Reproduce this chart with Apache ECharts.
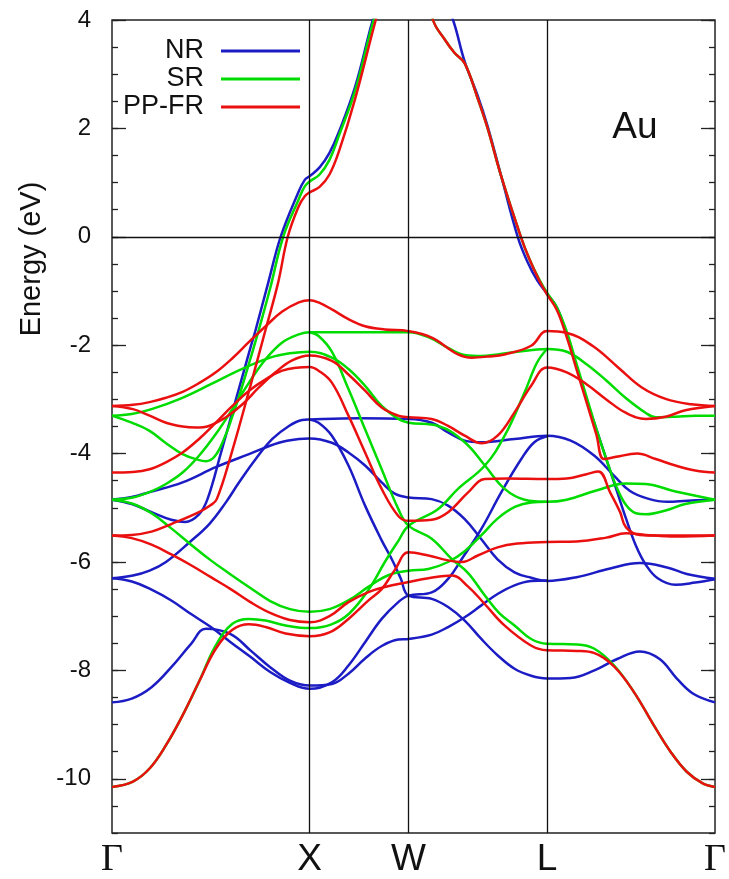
<!DOCTYPE html>
<html>
<head>
<meta charset="utf-8">
<script src="https://cdn.jsdelivr.net/npm/echarts@6/dist/echarts.min.js"></script>
<style>
  html, body { margin: 0; padding: 0; background: #ffffff; }
  #chart { width: 729px; height: 879px; }
</style>
</head>
<body>
<div id="chart"></div>
<script>
// High-symmetry points along the k-path (Γ–X–W–L–Γ) and their labels
const kSym = [0, 1, 1.5, 2.2, 3.05];
const kSymLabels = ['Γ', 'X', 'W', 'L', 'Γ'];
const energyTicks = [-10, -8, -6, -4, -2, 0, 2, 4];

// ---- NR (non-relativistic) bands, [k, E(eV)] ----
const nrBand1 = [[0,-4.85],[0.1,-4.93],[0.2,-5.08],[0.3,-5.22],[0.37,-5.26],[0.44,-5.12],[0.483,-4.84],[0.55,-4.0],[0.6,-3.35],[0.7,-2.05],[0.727,-1.71],[0.79,-0.85],[0.853,0],[0.94,0.8],[0.975,1.05],[1.0,1.12],
  [1.05,1.28],[1.1,1.55],[1.146,1.92],[1.23,2.77],[1.314,3.94],[1.4,5.0],[1.5,5.6],[1.6,5.2],[1.725,4.0],[1.784,3.23],[1.85,2.6],[1.9,2.04],[1.97,1.1],[2.052,0],[2.1,-0.45],[2.15,-0.8],[2.2,-1.05],
  [2.25,-1.3],[2.3,-1.8],[2.35,-2.4],[2.4,-3.0],[2.45,-3.55],[2.5,-4.1],[2.55,-4.65],[2.6,-5.2],[2.65,-5.7],[2.7,-6.05],[2.76,-6.3],[2.85,-6.42],[2.95,-6.38],[3.05,-6.32]];
const nrBand2 = [[0,-4.85],[0.1,-4.8],[0.19,-4.71],[0.357,-4.53],[0.525,-4.25],[0.693,-4.01],[0.844,-3.8],[0.945,-3.73],[1.0,-3.72],
  [1.112,-3.8],[1.196,-3.98],[1.28,-4.22],[1.364,-4.53],[1.43,-4.74],[1.5,-4.81],
  [1.617,-4.84],[1.7,-4.96],[1.784,-5.21],[1.868,-5.58],[1.95,-5.95],[2.036,-6.19],[2.12,-6.29],[2.2,-6.35],
  [2.35,-6.28],[2.52,-6.12],[2.67,-6.02],[2.807,-6.1],[2.907,-6.22],[3.05,-6.31]];
const nrBand3 = [[0,-6.3],[0.106,-6.25],[0.19,-6.16],[0.273,-6.0],[0.391,-5.64],[0.492,-5.3],[0.576,-4.9],[0.643,-4.53],[0.727,-4.1],[0.811,-3.73],[0.895,-3.49],[0.962,-3.38],[1.0,-3.37],
  [1.25,-3.35],[1.5,-3.36],
  [1.617,-3.43],[1.7,-3.61],[1.784,-3.76],[1.868,-3.79],[2.036,-3.73],[2.2,-3.67],
  [2.32,-3.76],[2.44,-4.04],[2.54,-4.41],[2.62,-4.69],[2.71,-4.83],[2.81,-4.89],[2.91,-4.87],[3.05,-4.85]];
const nrBand4 = [[0,-6.3],[0.1,-6.36],[0.2,-6.51],[0.3,-6.71],[0.4,-6.96],[0.5,-7.2],[0.6,-7.48],[0.7,-7.75],[0.8,-8.03],[0.9,-8.23],[1.0,-8.34],
  [1.112,-8.22],[1.196,-7.91],[1.28,-7.48],[1.364,-7.05],[1.448,-6.74],[1.5,-6.62],
  [1.617,-6.56],[1.7,-6.31],[1.77,-5.94],[1.868,-5.39],[1.968,-4.72],[2.07,-4.1],[2.136,-3.79],[2.2,-3.68]];
const nrBand5 = [[0,-8.59],[0.1,-8.52],[0.2,-8.31],[0.3,-7.94],[0.4,-7.51],[0.475,-7.23],[0.6,-7.33],[0.7,-7.63],[0.8,-7.94],[0.9,-8.19],[1.0,-8.28],
  [1.112,-8.25],[1.196,-8.06],[1.28,-7.78],[1.364,-7.55],[1.448,-7.43],[1.5,-7.42],
  [1.617,-7.34],[1.7,-7.2],[1.784,-7.02],[1.868,-6.8],[1.95,-6.59],[2.036,-6.43],[2.12,-6.35],[2.2,-6.34]];
const nrBand6 = [[1.0,-3.37],[1.045,-3.43],[1.112,-3.67],[1.196,-4.22],[1.28,-4.96],[1.364,-5.6],[1.414,-5.94],[1.46,-6.3],[1.5,-6.62],
  [1.617,-6.68],[1.7,-6.83],[1.784,-7.08],[1.868,-7.42],[1.95,-7.72],[2.036,-7.97],[2.12,-8.1],[2.2,-8.15],
  [2.32,-8.14],[2.44,-8.0],[2.555,-7.79],[2.67,-7.65],[2.77,-7.79],[2.857,-8.15],[2.94,-8.43],[3.05,-8.59]];

// ---- SR (scalar-relativistic) bands ----
const srBand1 = [[0,-3.3],[0.1,-3.43],[0.19,-3.58],[0.27,-3.8],[0.357,-4.01],[0.44,-4.12],[0.475,-4.14],[0.52,-4.05],[0.57,-3.7],[0.61,-3.3],[0.643,-2.94],[0.7,-2.25],[0.74,-1.75],[0.8,-0.95],[0.866,0],[0.944,0.69],[0.975,0.93],[1.0,1.02],
  [1.05,1.15],[1.1,1.42],[1.146,1.85],[1.23,2.7],[1.32,3.95],[1.42,5.1],[1.5,5.6],
  [1.56,5.2],[1.624,4.0],[1.683,3.64],[1.733,3.39],[1.784,3.2],[1.85,2.55],[1.9,2.0],[1.97,1.1],[2.068,0],[2.11,-0.4],[2.16,-0.78],[2.2,-1.03],
  [2.25,-1.3],[2.3,-1.75],[2.35,-2.35],[2.4,-2.95],[2.45,-3.55],[2.5,-4.1],[2.55,-4.6],[2.6,-4.95],[2.65,-5.1],[2.7,-5.12],[2.8,-5.05],[2.9,-4.93],[3.05,-4.85]];
const srBand2 = [[0,-3.3],[0.1,-3.27],[0.2,-3.18],[0.35,-2.98],[0.5,-2.72],[0.65,-2.45],[0.8,-2.23],[0.9,-2.15],[1.0,-2.12],
  [1.112,-2.23],[1.196,-2.44],[1.28,-2.75],[1.364,-3.12],[1.448,-3.36],[1.5,-3.43],
  [1.65,-3.49],[1.784,-3.79],[1.886,-4.22],[1.986,-4.65],[2.087,-4.85],[2.2,-4.89],
  [2.3,-4.85],[2.45,-4.68],[2.6,-4.55],[2.7,-4.56],[2.85,-4.7],[3.05,-4.85]];
const srBand3 = [[0,-4.85],[0.106,-4.81],[0.19,-4.71],[0.273,-4.56],[0.357,-4.35],[0.44,-4.04],[0.525,-3.64],[0.609,-3.18],[0.693,-2.69],[0.777,-2.26],[0.861,-1.95],[0.945,-1.8],[1.0,-1.76],
  [1.25,-1.76],[1.5,-1.76],
  [1.6,-1.85],[1.7,-2.05],[1.784,-2.18],[1.87,-2.2],[1.95,-2.17],[2.05,-2.12],[2.15,-2.08],[2.2,-2.07],
  [2.3,-2.12],[2.4,-2.35],[2.5,-2.65],[2.6,-2.98],[2.7,-3.25],[2.75,-3.33],[2.85,-3.32],[2.95,-3.3],[3.05,-3.3]];
const srBand4 = [[0,-4.85],[0.1,-4.92],[0.2,-5.1],[0.3,-5.38],[0.4,-5.68],[0.5,-5.97],[0.6,-6.23],[0.7,-6.48],[0.8,-6.72],[0.9,-6.87],[1.0,-6.92],
  [1.1,-6.87],[1.2,-6.7],[1.3,-6.45],[1.4,-6.24],[1.5,-6.16],
  [1.6,-6.13],[1.7,-6.0],[1.784,-5.8],[1.87,-5.5],[1.95,-5.2],[2.04,-4.98],[2.12,-4.9],[2.2,-4.89]];
const srBand5 = [[0,-10.15],[0.106,-10.05],[0.19,-9.81],[0.273,-9.38],[0.357,-8.83],[0.44,-8.21],[0.525,-7.54],[0.609,-7.14],[0.693,-7.05],[0.777,-7.08],[0.878,-7.17],[1.0,-7.22],
  [1.11,-7.15],[1.2,-6.95],[1.3,-6.5],[1.38,-6.0],[1.45,-5.6],[1.5,-5.33],
  [1.65,-5.02],[1.75,-4.65],[1.886,-4.22],[1.986,-3.67],[2.087,-2.87],[2.15,-2.32],[2.2,-2.07]];
const srBand6 = [[1.0,-1.76],[1.045,-1.83],[1.112,-2.12],[1.196,-2.81],[1.28,-3.55],[1.364,-4.29],[1.448,-5.02],[1.5,-5.33],
  [1.617,-5.57],[1.717,-5.94],[1.8,-6.2],[1.886,-6.62],[1.96,-6.95],[2.036,-7.17],[2.12,-7.42],[2.2,-7.51],
  [2.354,-7.52],[2.44,-7.6],[2.54,-7.91],[2.64,-8.4],[2.74,-9.01],[2.825,-9.5],[2.907,-9.87],[2.99,-10.09],[3.05,-10.15]];

// ---- PP-FR (fully relativistic) bands ----
const frBand1 = [[0,-5.51],[0.1,-5.5],[0.2,-5.44],[0.3,-5.3],[0.44,-5.08],[0.5,-4.95],[0.53,-4.84],[0.6,-4.05],[0.7,-2.75],[0.777,-1.71],[0.84,-0.85],[0.889,0],[0.944,0.56],[0.975,0.75],[1.0,0.82],
  [1.05,0.92],[1.1,1.15],[1.15,1.6],[1.23,2.55],[1.334,4.0],[1.42,5.1],[1.5,5.6],
  [1.56,5.2],[1.624,4.0],[1.683,3.64],[1.733,3.39],[1.784,3.2],[1.85,2.55],[1.9,2.0],[1.97,1.1],[2.068,0],[2.11,-0.4],[2.16,-0.8],[2.2,-1.06],
  [2.25,-1.35],[2.3,-1.85],[2.35,-2.45],[2.4,-3.05],[2.45,-3.65],[2.488,-4.1],[2.55,-4.06],[2.656,-4.0],[2.75,-4.1],[2.85,-4.22],[2.95,-4.31],[3.05,-4.35]];
const frBand2 = [[0,-3.12],[0.106,-3.1],[0.19,-3.05],[0.273,-2.97],[0.357,-2.86],[0.44,-2.7],[0.525,-2.5],[0.609,-2.24],[0.693,-1.94],[0.777,-1.65],[0.861,-1.38],[0.945,-1.21],[1.0,-1.17],
  [1.05,-1.22],[1.112,-1.34],[1.196,-1.52],[1.28,-1.65],[1.38,-1.71],[1.5,-1.74],
  [1.617,-1.86],[1.75,-2.17],[1.82,-2.23],[1.9,-2.21],[1.986,-2.17],[2.12,-2.01],[2.2,-1.74],
  [2.297,-1.77],[2.43,-2.01],[2.56,-2.41],[2.68,-2.78],[2.8,-2.99],[2.93,-3.09],[3.05,-3.12]];
const frBand3 = [[0,-3.12],[0.106,-3.18],[0.19,-3.3],[0.273,-3.43],[0.357,-3.5],[0.424,-3.52],[0.49,-3.49],[0.576,-3.33],[0.66,-3.09],[0.743,-2.78],[0.827,-2.5],[0.911,-2.28],[1.0,-2.19],
  [1.112,-2.29],[1.196,-2.54],[1.28,-2.84],[1.364,-3.15],[1.448,-3.3],[1.5,-3.33],
  [1.617,-3.36],[1.7,-3.49],[1.784,-3.67],[1.87,-3.81],[1.95,-3.67],[2.036,-3.24],[2.12,-2.75],[2.2,-2.41],
  [2.3,-2.5],[2.4,-2.72],[2.5,-3.0],[2.6,-3.25],[2.7,-3.36],[2.8,-3.32],[2.9,-3.2],[3.05,-3.12]];
const frBand4 = [[0,-4.35],[0.106,-4.34],[0.19,-4.29],[0.273,-4.16],[0.357,-3.98],[0.44,-3.73],[0.525,-3.43],[0.609,-3.12],[0.693,-2.84],[0.777,-2.63],[0.861,-2.47],[0.945,-2.41],[1.0,-2.4],
  [1.045,-2.47],[1.112,-2.69],[1.196,-3.3],[1.28,-3.98],[1.364,-4.65],[1.448,-5.15],[1.5,-5.24],
  [1.617,-5.22],[1.7,-5.08],[1.8,-4.72],[1.886,-4.47],[2.0,-4.46],[2.2,-4.47],
  [2.3,-4.46],[2.4,-4.38],[2.46,-4.33],[2.52,-4.72],[2.57,-5.08],[2.6,-5.36],[2.67,-5.5],[2.77,-5.51],[3.05,-5.51]];
const frBand5 = [[0,-5.51],[0.1,-5.56],[0.2,-5.68],[0.3,-5.86],[0.4,-6.06],[0.5,-6.28],[0.6,-6.5],[0.7,-6.74],[0.8,-6.94],[0.9,-7.07],[1.0,-7.11],
  [1.1,-7.0],[1.196,-6.74],[1.3,-6.55],[1.38,-6.46],[1.5,-6.37],
  [1.6,-6.3],[1.72,-6.25],[1.8,-6.45],[1.884,-6.77],[1.985,-7.17],[2.119,-7.54],[2.2,-7.63],
  [2.354,-7.64],[2.44,-7.68],[2.54,-7.93],[2.64,-8.4],[2.74,-9.01],[2.825,-9.5],[2.907,-9.87],[2.99,-10.09],[3.05,-10.15]];
const frBand6 = [[0,-10.15],[0.106,-10.05],[0.19,-9.81],[0.273,-9.38],[0.357,-8.83],[0.44,-8.21],[0.525,-7.6],[0.609,-7.25],[0.693,-7.15],[0.777,-7.2],[0.878,-7.32],[1.0,-7.37],
  [1.1,-7.3],[1.196,-7.05],[1.3,-6.7],[1.364,-6.5],[1.43,-6.15],[1.5,-5.82],
  [1.6,-5.88],[1.7,-5.97],[1.77,-6.0],[1.85,-5.88],[1.95,-5.73],[2.05,-5.66],[2.2,-5.63],
  [2.35,-5.62],[2.5,-5.55],[2.6,-5.47],[2.7,-5.5],[2.85,-5.53],[3.05,-5.51]];

const nrBands = [nrBand1, nrBand2, nrBand3, nrBand4, nrBand5, nrBand6];
const srBands = [srBand1, srBand2, srBand3, srBand4, srBand5, srBand6];
const frBands = [frBand1, frBand2, frBand3, frBand4, frBand5, frBand6];

const colors = { NR: '#1c1cc4', SR: '#00dc00', 'PP-FR': '#ea1010' };

function bandSeries(name, bands) {
  return bands.map(function (band) {
    return {
      type: 'line',
      name: name,
      data: band,
      smooth: 0.4,
      symbol: 'none',
      showSymbol: false,
      clip: true,
      silent: true,
      lineStyle: { color: colors[name], width: 2.5 },
      itemStyle: { color: colors[name] }
    };
  });
}

// Vertical lines at X, W, L and the Fermi level at 0 eV
const guideSeries = {
  type: 'line',
  name: 'guides',
  data: [],
  silent: true,
  markLine: {
    silent: true,
    symbol: ['none', 'none'],
    label: { show: false },
    lineStyle: { color: '#111', width: 1.3, type: 'solid' },
    data: kSym.slice(1, 4).map(function (k) { return { xAxis: k }; }).concat([{ yAxis: 0 }])
  }
};

function kLabel(v) {
  let idx = 0, best = Infinity;
  kSym.forEach(function (k, i) { const d = Math.abs(k - v); if (d < best) { best = d; idx = i; } });
  const t = kSymLabels[idx];
  return t === 'Γ' ? '{g|Γ}' : '{t|' + t + '}';
}

const yBase = { type: 'value', min: -11, max: 4, splitLine: { show: false }, axisLine: { show: false } };

const chart = echarts.init(document.getElementById('chart'), null, { renderer: 'canvas' });
chart.setOption({
  animation: false,
  backgroundColor: '#ffffff',
  grid: { left: 112, right: 11, top: 20, bottom: 44, show: true, borderColor: '#222', borderWidth: 1.5, backgroundColor: 'transparent' },
  legend: {
    data: ['NR', 'SR', 'PP-FR'],
    orient: 'vertical',
    align: 'right',
    left: 123,
    top: 37,
    padding: 0,
    itemGap: 0,
    itemWidth: 79,
    itemHeight: 3,
    icon: 'rect',
    selectedMode: false,
    textStyle: { fontFamily: 'Liberation Sans', fontSize: 27, lineHeight: 28, color: '#111', padding: [0, 12, 0, 0] }
  },
  xAxis: {
    type: 'value', min: kSym[0], max: kSym[kSym.length - 1],
    axisLine: { show: false }, axisTick: { show: false }, splitLine: { show: false },
    axisLabel: {
      customValues: kSym,
      formatter: kLabel,
      margin: 8,
      showMinLabel: true, showMaxLabel: true, hideOverlap: false,
      rich: {
        g: { fontFamily: 'Liberation Serif', fontSize: 38, color: '#111' },
        t: { fontFamily: 'Liberation Sans', fontSize: 37, color: '#111' }
      }
    }
  },
  yAxis: [
    Object.assign({}, yBase, { position: 'left', interval: 0.5, axisLabel: { show: false },
      axisTick: { show: true, inside: true, length: 6, lineStyle: { color: '#222', width: 1.3 } } }),
    Object.assign({}, yBase, { position: 'left',
      axisTick: { show: true, inside: true, length: 14, customValues: energyTicks, lineStyle: { color: '#222', width: 1.3 } },
      axisLabel: { customValues: energyTicks, margin: 21, fontFamily: 'Liberation Sans', fontSize: 24, color: '#111' } }),
    Object.assign({}, yBase, { position: 'right', interval: 0.5, axisLabel: { show: false },
      axisTick: { show: true, inside: true, length: 6, lineStyle: { color: '#222', width: 1.3 } } }),
    Object.assign({}, yBase, { position: 'right', axisLabel: { show: false },
      axisTick: { show: true, inside: true, length: 14, customValues: energyTicks, lineStyle: { color: '#222', width: 1.3 } } })
  ],
  graphic: [
    { type: 'text', x: 32, y: 259, rotation: Math.PI / 2,
      style: { text: 'Energy (eV)', font: '29px "Liberation Sans"', fill: '#111', align: 'center', verticalAlign: 'middle' } },
    { type: 'text', x: 635, y: 128,
      style: { text: 'Au', font: '37px "Liberation Sans"', fill: '#111', align: 'center', verticalAlign: 'middle' } }
  ],
  series: [guideSeries]
    .concat(bandSeries('NR', nrBands))
    .concat(bandSeries('SR', srBands))
    .concat(bandSeries('PP-FR', frBands))
});
</script>
</body>
</html>
